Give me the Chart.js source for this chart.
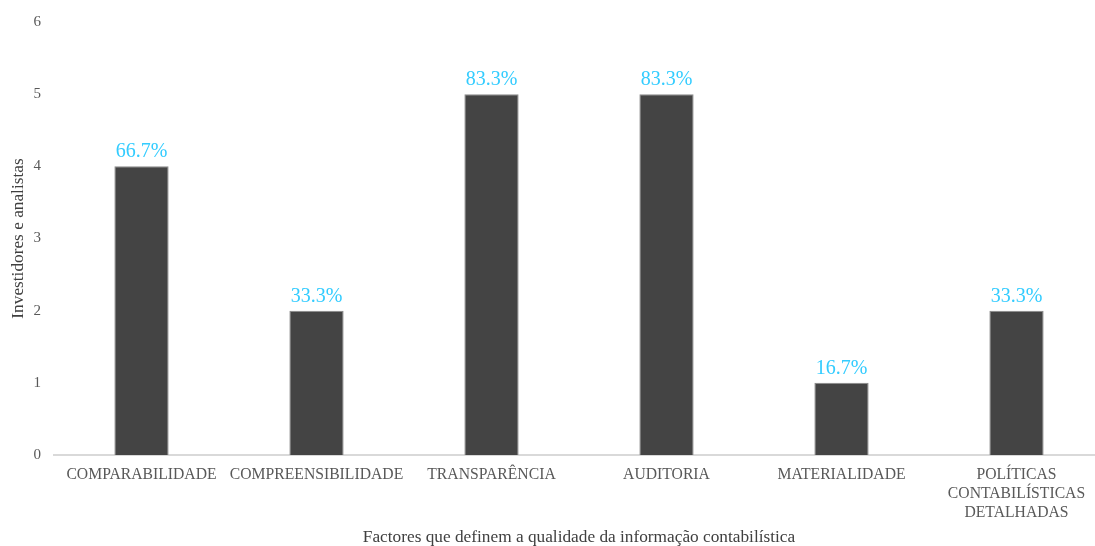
<!DOCTYPE html>
<html>
<head>
<meta charset="utf-8">
<script src="https://cdn.jsdelivr.net/npm/chart.js@4.4.1/dist/chart.umd.min.js"></script>
<style>
    html, body { margin: 0; padding: 0; background: #ffffff; overflow: hidden; }
    #wrap { width: 1095px; height: 546px; overflow: hidden; }
</style>
</head>
<body>
<div id="wrap">
    <canvas id="factorsChart" width="1110" height="546"></canvas>
</div>
<script>
const categories = [
    'COMPARABILIDADE',
    'COMPREENSIBILIDADE',
    'TRANSPARÊNCIA',
    'AUDITORIA',
    'MATERIALIDADE',
    ['POLÍTICAS', 'CONTABILÍSTICAS', 'DETALHADAS']
];
const investors = [4, 2, 5, 5, 1, 2];
const percentLabels = ['66.7%', '33.3%', '83.3%', '83.3%', '16.7%', '33.3%'];

const serif = '"Liberation Serif", "Times New Roman", "DejaVu Serif", serif';

// Draws the percentage above every bar
const percentPlugin = {
    id: 'percentPlugin',
    afterDatasetsDraw(chart) {
        const ctx = chart.ctx;
        const meta = chart.getDatasetMeta(0);
        ctx.save();
        ctx.font = '20px ' + serif;
        ctx.fillStyle = '#33ccff';
        ctx.textAlign = 'center';
        ctx.textBaseline = 'alphabetic';
        meta.data.forEach((bar, i) => {
            ctx.fillText(percentLabels[i], bar.x, bar.y - 9);
        });
        ctx.restore();
    }
};

const ctx = document.getElementById('factorsChart').getContext('2d');

new Chart(ctx, {
    type: 'bar',
    data: {
        labels: categories,
        datasets: [{
            label: 'Investidores e analistas',
            data: investors,
            backgroundColor: '#444444',
            borderColor: '#8a8a8a',
            borderWidth: 1,
            categoryPercentage: 1.0,
            barPercentage: 0.31
        }]
    },
    options: {
        responsive: false,
        animation: false,
        layout: {
            padding: { left: 0, right: 6, top: 14, bottom: 0 }
        },
        plugins: {
            legend: { display: false },
            tooltip: { enabled: false }
        },
        scales: {
            x: {
                grid: { display: false, drawTicks: false },
                border: { display: true, color: '#d9d9d9', width: 2 },
                ticks: {
                    color: '#595959',
                    font: { family: serif, size: 15.7, lineHeight: 1.21 },
                    padding: 10,
                    maxRotation: 0,
                    autoSkip: false
                },
                title: {
                    display: true,
                    text: 'Factores que definem a qualidade da informação contabilística',
                    color: '#404040',
                    font: { family: serif, size: 17.3, lineHeight: 1 },
                    padding: { top: 0, bottom: 0 }
                },
                afterFit(scale) {
                    scale.height = 91;
                }
            },
            y: {
                min: 0,
                max: 6,
                grid: { display: false, drawTicks: false },
                border: { display: false },
                ticks: {
                    stepSize: 1,
                    color: '#595959',
                    font: { family: serif, size: 15 },
                    padding: 13
                },
                title: {
                    display: true,
                    text: 'Investidores e analistas',
                    color: '#404040',
                    font: { family: serif, size: 17.3, lineHeight: 1.2 },
                    padding: { top: 8, bottom: 0 }
                },
                afterFit(scale) {
                    scale.width = 54;
                }
            }
        }
    },
    plugins: [percentPlugin]
});
</script>
</body>
</html>
